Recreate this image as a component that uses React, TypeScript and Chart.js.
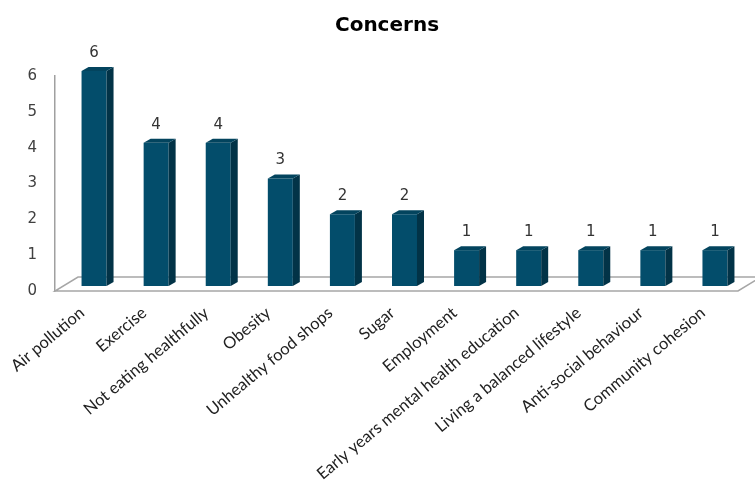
import React, { useEffect, useRef } from "react";
import { Chart, registerables } from "chart.js";

Chart.register(...registerables);

const chartTitle = "Concerns";
const categories = [
  "Air pollution",
  "Exercise",
  "Not eating healthfully",
  "Obesity",
  "Unhealthy food shops",
  "Sugar",
  "Employment",
  "Early years mental health education",
  "Living a balanced lifestyle",
  "Anti-social behaviour",
  "Community cohesion",
];
const counts = [6, 4, 4, 3, 2, 2, 1, 1, 1, 1, 1];
const yMin = 0;
const yMax = 6;
const yStep = 1;

const FRONT = "#034D6B";
const SIDE = "#023347";
const TOP = "#03445E";
const FLOOR_LINE = "#a6a6a6";

const BAR_SHIFT_X = 8;
const BAR_SHIFT_Y = -5;
const DEPTH_X = 7;
const DEPTH_Y = -4;
const FLOOR_X = 23;
const FLOOR_Y = -14;

const bar3d = {
  id: "bar3d",
  beforeDatasetsDraw(chart: any) {
    const { ctx, chartArea } = chart;
    const yb = chart.scales.y.getPixelForValue(0);
    ctx.save();
    ctx.beginPath();
    ctx.moveTo(chartArea.left, yb);
    ctx.lineTo(chartArea.right, yb);
    ctx.lineTo(chartArea.right + FLOOR_X, yb + FLOOR_Y);
    ctx.lineTo(chartArea.left + FLOOR_X, yb + FLOOR_Y);
    ctx.closePath();
    ctx.fillStyle = "#ffffff";
    ctx.fill();
    ctx.strokeStyle = FLOOR_LINE;
    ctx.lineWidth = 1.5;
    ctx.stroke();
    ctx.restore();
    ctx.save();
    ctx.translate(BAR_SHIFT_X, BAR_SHIFT_Y);
  },
  afterDatasetsDraw(chart: any) {
    const ctx = chart.ctx;
    const meta = chart.getDatasetMeta(0);
    meta.data.forEach((el: any, i: number) => {
      const { x, y, base, width } = el.getProps(["x", "y", "base", "width"], true);
      const x0 = x - width / 2;
      const x1 = x + width / 2;
      ctx.fillStyle = SIDE;
      ctx.beginPath();
      ctx.moveTo(x1, y);
      ctx.lineTo(x1 + DEPTH_X, y + DEPTH_Y);
      ctx.lineTo(x1 + DEPTH_X, base + DEPTH_Y);
      ctx.lineTo(x1, base);
      ctx.closePath();
      ctx.fill();
      ctx.fillStyle = TOP;
      ctx.beginPath();
      ctx.moveTo(x0, y);
      ctx.lineTo(x0 + DEPTH_X, y + DEPTH_Y);
      ctx.lineTo(x1 + DEPTH_X, y + DEPTH_Y);
      ctx.lineTo(x1, y);
      ctx.closePath();
      ctx.fill();
      ctx.fillStyle = "#333333";
      ctx.font = "15px 'DejaVu Sans'";
      ctx.textAlign = "center";
      ctx.textBaseline = "middle";
      ctx.fillText(String(counts[i]), x, y - 18);
    });
    ctx.restore();
  },
};

export default function App() {
  const ref = useRef<HTMLCanvasElement | null>(null);
  useEffect(() => {
    if (!ref.current) return;
    const chart = new Chart(ref.current, {
      type: "bar",
      data: {
        labels: categories,
        datasets: [
          {
            data: counts,
            backgroundColor: FRONT,
            borderWidth: 0,
            categoryPercentage: 1,
            barPercentage: 0.4026,
            clip: false as any,
          },
        ],
      },
      options: {
        responsive: false,
        animation: false,
        layout: { padding: { left: 19, right: 0, top: 0, bottom: 0 } },
        plugins: {
          legend: { display: false },
          tooltip: { enabled: false },
          title: {
            display: true,
            text: chartTitle,
            color: "#000000",
            font: { family: "'DejaVu Sans'", size: 20, weight: "bold" },
            padding: { top: 14, bottom: 38 },
          },
        },
        scales: {
          x: {
            grid: { display: false, drawTicks: false },
            border: { display: false },
            ticks: {
              autoSkip: false,
              maxRotation: 40,
              minRotation: 40,
              padding: 12,
              labelOffset: -4,
              color: "#222222",
              font: { family: "Lato", size: 16.5 },
            },
            afterFit: (s: any) => {
              s.height = 193;
              s.paddingLeft = 0;
              s.paddingRight = 17;
            },
          },
          y: {
            min: yMin,
            max: yMax,
            grid: { display: false, drawTicks: false },
            border: { display: true, color: "#a0a0a0", width: 1.5 },
            ticks: {
              stepSize: yStep,
              padding: 18,
              color: "#404040",
              font: { family: "'DejaVu Sans'", size: 15 },
            },
            afterFit: (s: any) => {
              s.width = 36;
            },
          },
        },
      },
      plugins: [bar3d],
    });
    return () => chart.destroy();
  }, []);
  return (
    <div style={{ position: "absolute", left: 0, top: 0, width: 755, height: 484 }}>
      <canvas ref={ref} width={755} height={484} />
    </div>
  );
}
